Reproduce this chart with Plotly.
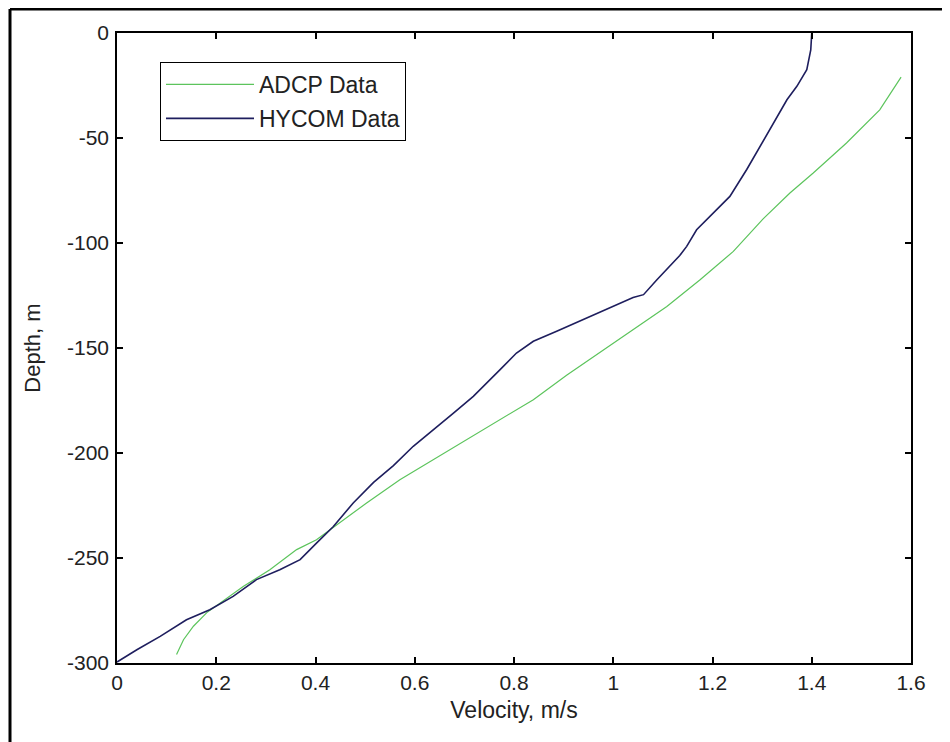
import plotly.graph_objects as go

# HYCOM model profile (velocity m/s, depth m)
hycom_v = [1.40, 1.398, 1.39, 1.37, 1.35, 1.316, 1.289, 1.269, 1.235, 1.202, 1.168, 1.148,
           1.134, 1.088, 1.061, 1.04, 0.993, 0.94, 0.886, 0.839, 0.805, 0.772, 0.758,
           0.718, 0.678, 0.637, 0.597, 0.557, 0.517, 0.476, 0.436, 0.402, 0.369, 0.328,
           0.281, 0.234, 0.187, 0.14, 0.087, 0.04, 0.0]
hycom_d = [0, -8, -17.5, -25.4, -31.8, -46, -57, -65, -77.8, -85.7, -93.7, -101.6,
           -106, -117.5, -124.6, -126, -131, -136.5, -142, -146.8, -152.4, -160.3, -163.5,
           -173, -181, -189, -196.8, -206, -214, -223.8, -235, -242.9, -250.8, -255.6,
           -260.3, -268.3, -274.6, -279.4, -287.3, -293.7, -299.5]

# ADCP measured profile
adcp_v = [1.58, 1.537, 1.47, 1.403, 1.356, 1.302, 1.242, 1.175, 1.108, 1.04, 0.973,
          0.906, 0.839, 0.772, 0.705, 0.637, 0.57, 0.503, 0.449, 0.402, 0.362, 0.308,
          0.255, 0.208, 0.181, 0.154, 0.134, 0.12]
adcp_d = [-21, -36.6, -52.4, -66.7, -76.2, -88.5, -104, -117.5, -130.2, -141.3, -152.4,
          -163, -174.6, -184, -193.7, -203.2, -212.7, -223.8, -233.3, -241.3, -246, -255.6,
          -263.5, -271.4, -276, -282.5, -288.9, -296]

x_ticks = [0, 0.2, 0.4, 0.6, 0.8, 1, 1.2, 1.4, 1.6]
x_tick_text = ["0", "0.2", "0.4", "0.6", "0.8", "1", "1.2", "1.4", "1.6"]
y_ticks = [0, -50, -100, -150, -200, -250, -300]
y_tick_text = ["0", "-50", "-100", "-150", "-200", "-250", "-300"]

# page has an 8px body margin, so the figure is drawn 8px in from the page edge
OFF = 8
W, H = 950 - OFF, 742 - OFF
L, R, T, B = 117 - OFF, 911 - OFF, 33 - OFF, 663 - OFF

FONT = "Liberation Sans, Arial, sans-serif"
TXT = "#222222"

fig = go.Figure()
fig.add_trace(go.Scatter(x=adcp_v, y=adcp_d, mode="lines", name="ADCP Data",
                         legendgroup="a",
                         line=dict(color="#5cc45c", width=1.2)))
fig.add_trace(go.Scatter(x=hycom_v, y=hycom_d, mode="lines", name="HYCOM Data",
                         legendgroup="b",
                         line=dict(color="#1e1e5e", width=1.6)))

axis_common = dict(showgrid=False, zeroline=False, showline=True, linecolor="black",
                   linewidth=1.5, mirror="ticks", ticks="inside", ticklen=6,
                   tickcolor="black", tickwidth=1.5,
                   tickfont=dict(family=FONT, size=21, color=TXT))

fig.update_xaxes(range=[0, 1.6], tickvals=x_ticks, ticktext=x_tick_text,
                 title=dict(text="Velocity, m/s", standoff=9,
                            font=dict(family=FONT, size=23, color=TXT)),
                 **axis_common)
fig.update_yaxes(range=[-300, 0], tickvals=y_ticks, ticktext=y_tick_text,
                 ticklabelstandoff=2,
                 title=dict(text="Depth, m", standoff=20,
                            font=dict(family=FONT, size=22, color=TXT)),
                 **axis_common)

pw, ph = R - L, B - T
def px(xp):  # page pixel -> paper fraction
    return (xp - OFF - L) / pw
def py(yp):
    return 1 - (yp - OFF - T) / ph

fig.update_layout(
    width=W, height=H,
    margin=dict(l=L, r=W - R, t=T, b=H - B),
    paper_bgcolor="white", plot_bgcolor="white",
    legend=dict(x=px(160), y=py(62), xanchor="left", yanchor="top",
                bordercolor="black", borderwidth=1, bgcolor="white",
                font=dict(family=FONT, size=23, color=TXT),
                tracegroupgap=1, itemwidth=88),
    showlegend=True,
    shapes=[
        dict(type="line", xref="paper", yref="paper", x0=px(10), x1=px(950), y0=py(9), y1=py(9),
             line=dict(color="black", width=3)),
        dict(type="line", xref="paper", yref="paper", x0=px(10), x1=px(10), y0=py(9), y1=py(742),
             line=dict(color="black", width=3)),
    ],
)

fig.write_html("out.html")
